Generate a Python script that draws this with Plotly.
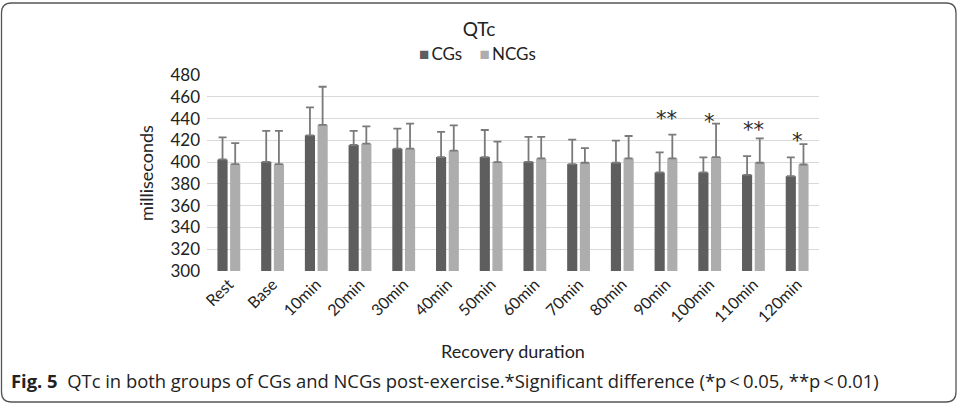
import plotly.graph_objects as go

# recovery time points
categories = ["Rest", "Base", "10min", "20min", "30min", "40min", "50min",
              "60min", "70min", "80min", "90min", "100min", "110min", "120min"]

# mean QTc (ms) and upper SD
cg_mean = [402.5, 400.3, 424.6, 415.7, 412.3, 404.6, 404.6,
           400.3, 398.2, 399.4, 390.5, 390.5, 388.3, 387.1]
cg_sd = [20.3, 28.3, 25.6, 12.9, 18.5, 23.1, 24.9,
         22.8, 22.4, 20.3, 18.4, 13.8, 17.2, 17.2]
ncg_mean = [398.2, 398.2, 434.2, 416.9, 412.3, 410.5, 400.0,
            403.4, 399.4, 403.4, 403.4, 404.6, 399.4, 397.8]
ncg_sd = [19.3, 30.4, 35.0, 16.0, 23.1, 23.3, 18.8,
          19.7, 13.5, 20.6, 21.8, 30.8, 22.4, 18.8]

# significance markers
star_cats = ["90min", "100min", "110min", "120min"]
star_text = ["**", "*", "**", "*"]
star_y = [443.4, 440.6, 433.0, 423.3]

CG_COLOR = "#5e5e5e"
NCG_COLOR = "#adadad"

W, H = 958, 404
L, R, T, B = 207, 139, 75, 133
pw, ph = W - L - R, H - T - B


def px(x):
    return (x - L) / pw


def py(y):
    return (H - B - y) / ph


CHART_FONT = "Lato, Carlito, sans-serif"

fig = go.Figure()
fig.add_trace(go.Bar(
    x=categories, y=cg_mean, name="CGs",
    marker=dict(color=CG_COLOR, line=dict(width=0)),
    error_y=dict(type="data", array=cg_sd, arrayminus=[0] * len(cg_sd),
                 color="#7a7a7a", thickness=1.8, width=4),
))
fig.add_trace(go.Bar(
    x=categories, y=ncg_mean, name="NCGs",
    marker=dict(color=NCG_COLOR, line=dict(width=0)),
    error_y=dict(type="data", array=ncg_sd, arrayminus=[0] * len(ncg_sd),
                 color="#7a7a7a", thickness=1.8, width=4),
))

for c, t, y in zip(star_cats, star_text, star_y):
    fig.add_annotation(x=c, y=y, text=t, showarrow=False,
                       font=dict(family="DejaVu Sans", size=21, color="#2a2a2a"),
                       yanchor="middle", yshift=-4)

# legend drawn as a text line, like the Excel one
fig.add_annotation(
    xref="paper", yref="paper", x=px(477), y=py(53), xanchor="center", yanchor="middle",
    text=(f"<span style='color:{CG_COLOR}'>\u25a0</span>\u2009CGs\u00a0\u00a0\u00a0\u00a0"
          f"<span style='color:{NCG_COLOR}'>\u25a0</span>\u2009NCGs"),
    showarrow=False, font=dict(family=CHART_FONT, size=17, color="#222222"))

# caption
fig.add_annotation(
    xref="paper", yref="paper", x=px(9), y=py(380), xanchor="left", yanchor="middle",
    text="<b>Fig. 5</b>  QTc in both groups of CGs and NCGs post-exercise.*Significant difference (*p\u2009<\u20090.05, **p\u2009<\u20090.01)",
    showarrow=False, font=dict(family="Open Sans", size=18.4, color="#222222"))

# rounded frame around the figure
r = 10
x0, x1, y0, y1 = 1.5, 956, 3, 402
path = (f"M {px(x0 + r)},{py(y0)} L {px(x1 - r)},{py(y0)} Q {px(x1)},{py(y0)} {px(x1)},{py(y0 + r)} "
        f"L {px(x1)},{py(y1 - r)} Q {px(x1)},{py(y1)} {px(x1 - r)},{py(y1)} "
        f"L {px(x0 + r)},{py(y1)} Q {px(x0)},{py(y1)} {px(x0)},{py(y1 - r)} "
        f"L {px(x0)},{py(y0 + r)} Q {px(x0)},{py(y0)} {px(x0 + r)},{py(y0)} Z")
fig.add_shape(type="path", path=path, xref="paper", yref="paper",
              line=dict(color="#555555", width=1.3))

fig.update_layout(
    width=W, height=H,
    margin=dict(l=L, r=R, t=T, b=B, autoexpand=False),
    paper_bgcolor="white", plot_bgcolor="white",
    barmode="group", bargap=0.42, bargroupgap=0.2,
    font=dict(family=CHART_FONT, size=16, color="#222222"),
    title=dict(text="QTc", x=0.5, xref="container", xanchor="center",
               y=1 - 29 / H, yref="container", yanchor="middle",
               font=dict(family=CHART_FONT, size=19, color="#222222")),
    showlegend=False,
)
fig.update_xaxes(
    tickangle=-45, tickfont=dict(size=16), showgrid=False,
    showline=False, ticks="", automargin=False,
    title=dict(text="Recovery duration", font=dict(size=18), standoff=20),
)
fig.update_yaxes(
    range=[300, 480], dtick=20, tickfont=dict(size=17),
    showgrid=True, gridcolor="#d9d9d9", gridwidth=1,
    zeroline=False, showline=False, ticks="", ticklabelstandoff=6,
    automargin=False,
    title=dict(text="milliseconds", font=dict(size=18), standoff=12),
)

# the page body has a default 8px margin; drop it so the figure fills the window
fig.write_html("out.html", config={"displayModeBar": False},
               post_script="document.body.style.margin='0';")
